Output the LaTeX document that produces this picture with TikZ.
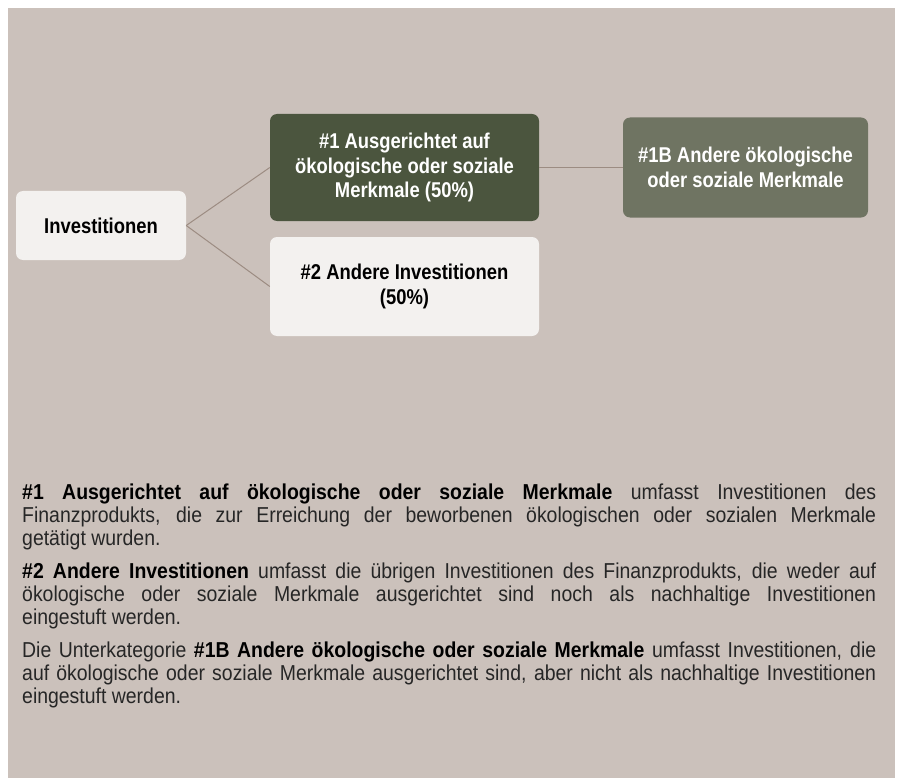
\documentclass[tikz,border=0pt]{standalone}
\usepackage{fontspec}
\setmainfont{Liberation Sans}[FakeStretch=0.9]
\newfontfamily\boxfont{Liberation Sans}[FakeStretch=0.86]
\definecolor{bgbeige}{RGB}{203,193,187}
\definecolor{lightbox}{RGB}{243,241,239}
\definecolor{darkgreen}{RGB}{75,85,62}
\definecolor{midgreen}{RGB}{111,116,98}
\definecolor{linkcol}{RGB}{156,140,130}
\definecolor{txt}{RGB}{38,38,38}
\newcommand{\strongtxt}[1]{\textcolor{black}{\bfseries #1}}
\tikzset{
  box/.style={rectangle, rounded corners=7pt, inner sep=0pt, align=center,
    font=\boxfont\bfseries\fontsize{21.4}{24.5}\selectfont},
  lightnode/.style={box, fill=lightbox, text=black},
  darknode/.style={box, fill=darkgreen, text=white},
  midnode/.style={box, fill=midgreen, text=white},
  link/.style={draw=linkcol, line width=1pt},
  bodytext/.style={anchor=north west, inner sep=0pt, text width=854pt, align=justify, text=txt,
    font=\fontsize{21.6}{23}\selectfont}
}
\begin{document}
\begin{tikzpicture}[x=1pt,y=-1pt]
\useasboundingbox (0,0) rectangle (899,778);
\fill[white] (0,0) rectangle (899,778);
\fill[bgbeige] (8,8) rectangle (895,778);

\node[lightnode, minimum width=170pt, minimum height=69pt] (inv) at (101,225.5) {Investitionen};
\node[darknode, minimum width=269pt, minimum height=107pt] (a1) at (404.5,167.5)
  {\#1 Ausgerichtet auf\\ökologische oder soziale\\Merkmale (50\%)};
\node[lightnode, minimum width=269pt, minimum height=99pt] (a2) at (404.5,286.5)
  {\#2 Andere Investitionen\\(50\%)};
\node[midnode, minimum width=245pt, minimum height=100pt] (b1) at (745.5,167.5)
  {\#1B Andere ökologische\\oder soziale Merkmale};

\draw[link] (inv.east) -- (a1.west);
\draw[link] (inv.east) -- (a2.west);
\draw[link] (a1.east) -- (b1.west);

\node[bodytext] (body) at (22,484) {%
\hyphenpenalty=10000 \tolerance=9999 \parindent=0pt \parskip=10pt
\strongtxt{\#1 Ausgerichtet auf ökologische oder soziale Merkmale} umfasst Investitionen des\linebreak
Finanzprodukts, die zur Erreichung der beworbenen ökologischen oder sozialen Merkmale\linebreak
getätigt wurden.\par
\strongtxt{\#2 Andere Investitionen} umfasst die übrigen Investitionen des Finanzprodukts, die weder auf\linebreak
ökologische oder soziale Merkmale ausgerichtet sind noch als nachhaltige Investitionen\linebreak
eingestuft werden.\par
Die Unterkategorie \strongtxt{\#1B Andere ökologische oder soziale Merkmale} umfasst Investitionen, die\linebreak
auf ökologische oder soziale Merkmale ausgerichtet sind, aber nicht als nachhaltige Investitionen\linebreak
eingestuft werden.\par};
\end{tikzpicture}
\end{document}
